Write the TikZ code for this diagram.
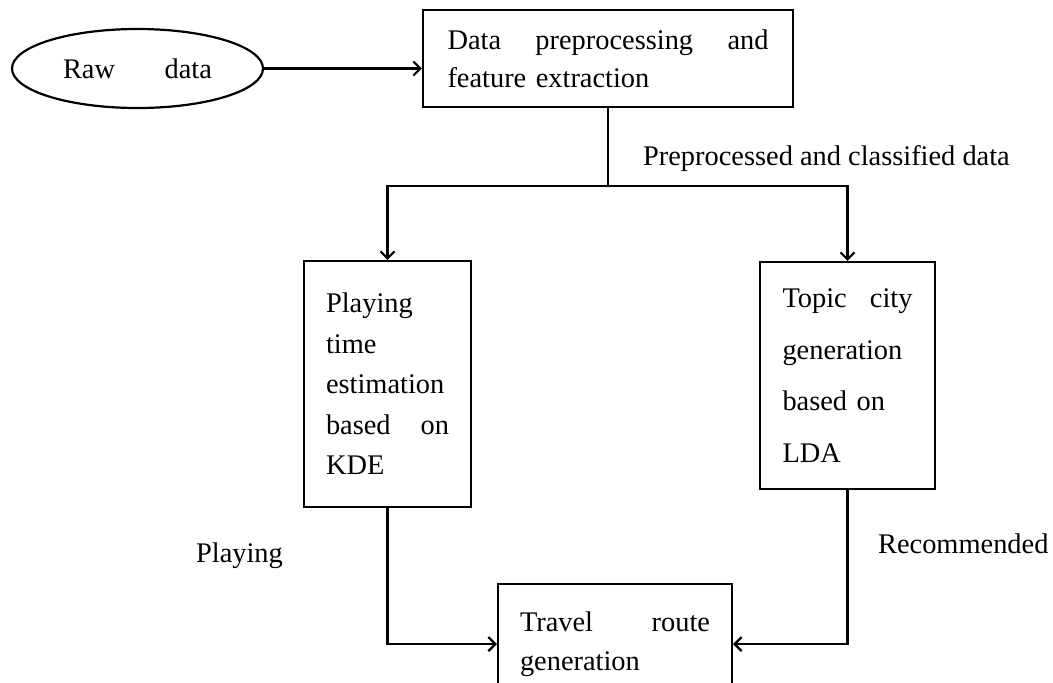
\documentclass[tikz,border=0pt]{standalone}
\usepackage{fontspec}
\setmainfont{Liberation Serif}
\usetikzlibrary{arrows.meta,shapes.geometric}

\begin{document}
\begin{tikzpicture}[x=0.5pt,y=-0.5pt,line width=1.1pt,
    >={Straight Barb[length=3.5pt,width=7pt]},
    process/.style={draw,rectangle,inner xsep=11pt,align=left},
    source/.style={draw,ellipse,minimum width=125.5pt,minimum height=39.5pt},
    label/.style={anchor=base west,inner sep=0pt,font=\fontsize{14.2}{17}\selectfont}]
    \useasboundingbox (0,0) rectangle (1053,682);
    \clip (0,0) rectangle (1053,682);
    % boxes
    \node[source,font=\fontsize{14.2}{17}\selectfont] (raw) at (137.5,68.5)
      {\makebox[74.5pt]{Raw\hfill data}};
    \node[process,minimum width=185pt,minimum height=48.5pt,text width=160.5pt,
      font=\fontsize{14.2}{19}\selectfont] (prep) at (608,58.5)
      {Data\hfill preprocessing\hfill and\\feature extraction};
    \node[process,minimum width=83.5pt,minimum height=123pt,text width=61.5pt,
      font=\fontsize{14.2}{20.25}\selectfont] (kde) at (387.5,384)
      {Playing\\time\\estimation\\based\hfill on\\KDE};
    \node[process,minimum width=87.5pt,minimum height=113.5pt,text width=65pt,
      font=\fontsize{14.2}{25.85}\selectfont] (lda) at (847.5,375.5)
      {Topic\hfill city\\generation\\based on\\LDA};
    \node[process,minimum width=117pt,minimum height=60pt,text width=95pt,
      font=\fontsize{14.2}{19.5}\selectfont,anchor=north] (route) at (615,583)
      {Travel\hfill route\\generation};
    \coordinate (fork) at (606,186);
    % labels
    \node[label] (lblprep) at (642,165) {Preprocessed and classified data};
    \node[label] (lblplay) at (195,562) {Playing};
    \node[label] (lblrec) at (877,553) {Recommended};
    % connectors
    \draw[->] (raw.east) -- (raw.east -| prep.west);
    \draw (fork -| prep.south) -- (prep.south);
    \draw[->] (fork -| prep.south) -| (kde.north);
    \draw[->] (fork -| prep.south) -| (lda.north);
    \draw[->] (kde.south) |- (route.west);
    \draw[->] (lda.south) |- (route.east);
\end{tikzpicture}
\end{document}
